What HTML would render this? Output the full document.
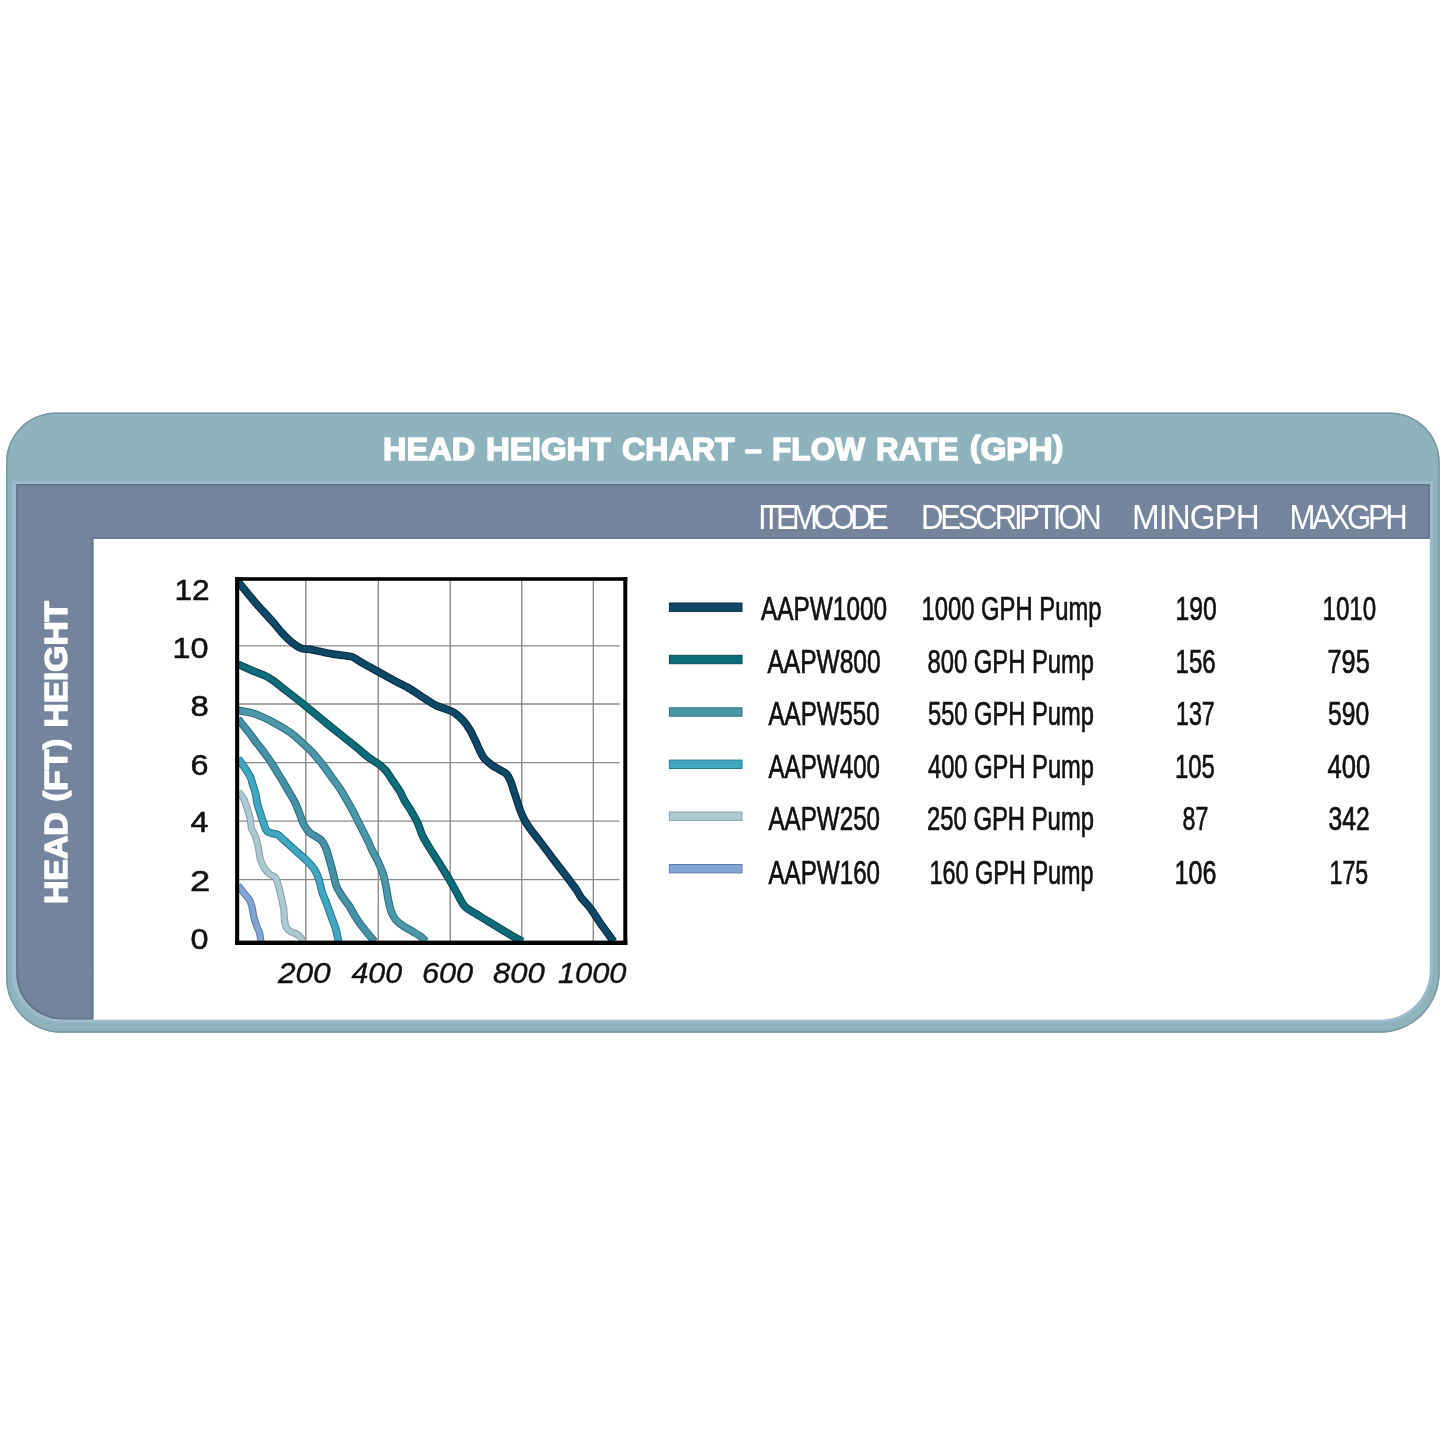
<!DOCTYPE html>
<html lang="en">
<head>
<meta charset="utf-8">
<title>Head Height Chart – Flow Rate (GPH)</title>
<style>
html,body{margin:0;padding:0;background:#fff;}
body{width:1445px;height:1445px;overflow:hidden;font-family:'Liberation Sans', Arial, Helvetica, sans-serif;}
svg{display:block;}
</style>
</head>
<body>
<svg width="1445" height="1445" viewBox="0 0 1445 1445">
<rect width="1445" height="1445" fill="#ffffff"/>
<defs><clipPath id="co"><path d="M56,412.5 H1389.5 A50,50 0 0 1 1439.7,462.5 V972.5 A60,60 0 0 1 1379.5,1032.7 H61 A55,55 0 0 1 6,977.5 V462.5 A50,50 0 0 1 56,412.5 Z"/></clipPath><clipPath id="cb"><path d="M16.2,484 H1429.8 V538.8 H93.4 V1019.6 H62 A46,46 0 0 1 16.2,973.6 Z"/></clipPath></defs>
<path d="M56,412.5 H1389.5 A50,50 0 0 1 1439.7,462.5 V972.5 A60,60 0 0 1 1379.5,1032.7 H61 A55,55 0 0 1 6,977.5 V462.5 A50,50 0 0 1 56,412.5 Z" fill="#8fb3bd"/>
<path d="M56,412.5 H1389.5 A50,50 0 0 1 1439.7,462.5 V972.5 A60,60 0 0 1 1379.5,1032.7 H61 A55,55 0 0 1 6,977.5 V462.5 A50,50 0 0 1 56,412.5 Z" fill="none" stroke="#7b979f" stroke-width="3" clip-path="url(#co)"/>
<path d="M11.8,481.3 H1432.8 V970 A52.6,52.6 0 0 1 1380.2,1022.6 H61 A49.2,49.2 0 0 1 11.8,973.4 Z" fill="#9dbacb"/>
<path d="M16.2,484 H1429.8 V970 A49.8,49.8 0 0 1 1380,1019.8 H62 A46,46 0 0 1 16.2,973.6 Z" fill="#ffffff"/>
<path d="M16.2,484 H1429.8 V538.8 H93.4 V1019.6 H62 A46,46 0 0 1 16.2,973.6 Z" fill="#73849c"/>
<path d="M16.2,484 H1429.8 V538.8 H93.4 V1019.6 H62 A46,46 0 0 1 16.2,973.6 Z" fill="none" stroke="#63758d" stroke-width="3.4" clip-path="url(#cb)"/>
<g id="title">
<text x="383.00" y="459.7" font-family="'Liberation Sans', Arial, Helvetica, sans-serif" font-size="30.9" font-weight="bold" font-style="normal" fill="#fff" textLength="92.16" lengthAdjust="spacingAndGlyphs" stroke="#fff" stroke-width="1.4" stroke-linejoin="round">HEAD</text>
<text x="486.00" y="459.7" font-family="'Liberation Sans', Arial, Helvetica, sans-serif" font-size="30.9" font-weight="bold" font-style="normal" fill="#fff" textLength="124.55" lengthAdjust="spacingAndGlyphs" stroke="#fff" stroke-width="1.4" stroke-linejoin="round">HEIGHT</text>
<text x="622.00" y="459.7" font-family="'Liberation Sans', Arial, Helvetica, sans-serif" font-size="30.9" font-weight="bold" font-style="normal" fill="#fff" textLength="112.54" lengthAdjust="spacingAndGlyphs" stroke="#fff" stroke-width="1.4" stroke-linejoin="round">CHART</text>
<text x="745.00" y="459.7" font-family="'Liberation Sans', Arial, Helvetica, sans-serif" font-size="30.9" font-weight="bold" font-style="normal" fill="#fff" textLength="16.81" lengthAdjust="spacingAndGlyphs" stroke="#fff" stroke-width="1.4" stroke-linejoin="round">–</text>
<text x="772.00" y="459.7" font-family="'Liberation Sans', Arial, Helvetica, sans-serif" font-size="30.9" font-weight="bold" font-style="normal" fill="#fff" textLength="93.08" lengthAdjust="spacingAndGlyphs" stroke="#fff" stroke-width="1.4" stroke-linejoin="round">FLOW</text>
<text x="876.00" y="459.7" font-family="'Liberation Sans', Arial, Helvetica, sans-serif" font-size="30.9" font-weight="bold" font-style="normal" fill="#fff" textLength="82.61" lengthAdjust="spacingAndGlyphs" stroke="#fff" stroke-width="1.4" stroke-linejoin="round">RATE</text>
<text x="970.00" y="459.7" font-family="'Liberation Sans', Arial, Helvetica, sans-serif" font-size="30.9" font-weight="bold" font-style="normal" fill="#fff" textLength="93.14" lengthAdjust="spacingAndGlyphs" stroke="#fff" stroke-width="1.4" stroke-linejoin="round"><tspan font-size="29" dy="-2.3">(</tspan><tspan dy="2.3">GPH</tspan><tspan font-size="29" dy="-2.3">)</tspan></text>
</g>
<g id="hdr">
<text transform="translate(758.00,529.3) scale(0.9,1)" font-family="'Liberation Sans', Arial, Helvetica, sans-serif" font-size="34.6" font-weight="normal" font-style="normal" fill="#fff" textLength="145.20" lengthAdjust="spacing">ITEMCODE</text>
<text transform="translate(921.00,529.3) scale(0.9,1)" font-family="'Liberation Sans', Arial, Helvetica, sans-serif" font-size="34.6" font-weight="normal" font-style="normal" fill="#fff" textLength="200.73" lengthAdjust="spacing">DESCRIPTION</text>
<text transform="translate(1132.00,529.3) scale(0.96,1)" font-family="'Liberation Sans', Arial, Helvetica, sans-serif" font-size="34.6" font-weight="normal" font-style="normal" fill="#fff" textLength="133.04" lengthAdjust="spacing">MINGPH</text>
<text transform="translate(1289.50,529.3) scale(0.9,1)" font-family="'Liberation Sans', Arial, Helvetica, sans-serif" font-size="34.6" font-weight="normal" font-style="normal" fill="#fff" textLength="131.46" lengthAdjust="spacing">MAXGPH</text>
</g>
<g id="vlabel" transform="translate(67.1,902.6) rotate(-90)">
<text x="-1.40" y="0.0" font-family="'Liberation Sans', Arial, Helvetica, sans-serif" font-size="30.9" font-weight="bold" font-style="normal" fill="#fff" textLength="91.60" lengthAdjust="spacingAndGlyphs" stroke="#fff" stroke-width="1.4" stroke-linejoin="round">HEAD</text>
<text x="101.10" y="0.0" font-family="'Liberation Sans', Arial, Helvetica, sans-serif" font-size="30.9" font-weight="bold" font-style="normal" fill="#fff" textLength="62.60" lengthAdjust="spacingAndGlyphs" stroke="#fff" stroke-width="1.4" stroke-linejoin="round"><tspan font-size="29" dy="-2.3">(</tspan><tspan dy="2.3">FT</tspan><tspan font-size="29" dy="-2.3">)</tspan></text>
<text x="175.10" y="0.0" font-family="'Liberation Sans', Arial, Helvetica, sans-serif" font-size="30.9" font-weight="bold" font-style="normal" fill="#fff" textLength="126.55" lengthAdjust="spacingAndGlyphs" stroke="#fff" stroke-width="1.4" stroke-linejoin="round">HEIGHT</text>
</g>
<g id="grid" stroke="#8f8a8a" stroke-width="1.4" fill="none">
<line x1="305.8" y1="579" x2="305.8" y2="942.8"/>
<line x1="378.3" y1="579" x2="378.3" y2="942.8"/>
<line x1="450.2" y1="579" x2="450.2" y2="942.8"/>
<line x1="521.7" y1="579" x2="521.7" y2="942.8"/>
<line x1="593.3" y1="579" x2="593.3" y2="942.8"/>
<line x1="237" y1="645.9" x2="619.5" y2="645.9"/>
<line x1="237" y1="704" x2="619.5" y2="704"/>
<line x1="237" y1="762.6" x2="619.5" y2="762.6"/>
<line x1="237" y1="821.1" x2="619.5" y2="821.1"/>
<line x1="237" y1="879.6" x2="619.5" y2="879.6"/>
</g>
<g id="curves" fill="none" stroke-linecap="butt" stroke-linejoin="round">
<path d="M238.0,885.5 C238.8,886.5 242.3,891.0 243.8,892.9 C245.3,894.8 248.5,898.1 249.6,900.0 C250.7,901.9 251.4,904.9 252.0,907.1 C252.6,909.3 253.2,914.0 253.8,916.5 C254.4,919.0 255.9,923.7 256.7,925.9 C257.5,928.1 259.0,930.8 259.6,932.9 C260.2,935.0 260.8,940.4 261.0,941.5" stroke="#5f7ea8" stroke-width="7.2"/>
<path d="M238.0,885.5 C238.8,886.5 242.3,891.0 243.8,892.9 C245.3,894.8 248.5,898.1 249.6,900.0 C250.7,901.9 251.4,904.9 252.0,907.1 C252.6,909.3 253.2,914.0 253.8,916.5 C254.4,919.0 255.9,923.7 256.7,925.9 C257.5,928.1 259.0,930.8 259.6,932.9 C260.2,935.0 260.8,940.4 261.0,941.5" stroke="#82a5d4" stroke-width="5.0"/>
<path d="M238.2,791.5 C238.9,792.5 242.7,796.7 243.8,798.8 C244.9,800.9 245.8,804.3 246.7,807.0 C247.6,809.7 249.6,816.0 250.2,818.8 C250.8,821.6 250.7,825.8 251.4,828.2 C252.1,830.6 254.6,833.8 255.5,836.5 C256.4,839.2 257.9,845.2 258.5,848.2 C259.1,851.2 259.4,856.1 260.2,858.8 C261.0,861.5 263.1,866.2 264.4,868.2 C265.7,870.2 268.1,872.8 269.6,874.1 C271.1,875.4 274.3,876.0 275.5,877.6 C276.7,879.2 277.7,883.2 278.5,885.9 C279.3,888.6 280.7,894.5 281.4,897.6 C282.1,900.7 283.4,906.6 283.8,909.4 C284.2,912.2 284.1,916.4 284.4,918.8 C284.7,921.2 285.2,925.4 286.1,927.1 C287.0,928.8 289.4,930.9 290.8,931.8 C292.2,932.7 295.4,933.3 296.7,934.1 C298.0,934.9 300.0,936.6 300.8,937.6 C301.6,938.6 302.7,941.0 303.0,941.5" stroke="#88a4ae" stroke-width="7.2"/>
<path d="M238.2,791.5 C238.9,792.5 242.7,796.7 243.8,798.8 C244.9,800.9 245.8,804.3 246.7,807.0 C247.6,809.7 249.6,816.0 250.2,818.8 C250.8,821.6 250.7,825.8 251.4,828.2 C252.1,830.6 254.6,833.8 255.5,836.5 C256.4,839.2 257.9,845.2 258.5,848.2 C259.1,851.2 259.4,856.1 260.2,858.8 C261.0,861.5 263.1,866.2 264.4,868.2 C265.7,870.2 268.1,872.8 269.6,874.1 C271.1,875.4 274.3,876.0 275.5,877.6 C276.7,879.2 277.7,883.2 278.5,885.9 C279.3,888.6 280.7,894.5 281.4,897.6 C282.1,900.7 283.4,906.6 283.8,909.4 C284.2,912.2 284.1,916.4 284.4,918.8 C284.7,921.2 285.2,925.4 286.1,927.1 C287.0,928.8 289.4,930.9 290.8,931.8 C292.2,932.7 295.4,933.3 296.7,934.1 C298.0,934.9 300.0,936.6 300.8,937.6 C301.6,938.6 302.7,941.0 303.0,941.5" stroke="#acc8d0" stroke-width="5.0"/>
<path d="M238.0,758.4 C239.0,759.8 244.1,766.7 245.7,769.2 C247.3,771.7 249.3,774.7 250.3,776.8 C251.3,778.9 252.2,783.0 252.9,785.2 C253.6,787.4 255.0,791.2 255.6,793.6 C256.2,796.0 256.5,800.4 257.3,803.5 C258.1,806.6 260.2,813.0 261.4,816.5 C262.6,820.0 264.8,827.8 266.1,830.0 C267.4,832.2 269.2,832.3 270.8,832.9 C272.4,833.5 276.2,833.8 277.9,834.7 C279.6,835.6 281.5,837.9 283.8,840.0 C286.1,842.1 292.4,847.8 295.5,850.6 C298.6,853.4 304.8,858.7 307.3,861.2 C309.8,863.7 312.8,866.9 314.4,869.4 C316.0,871.9 318.1,877.0 319.1,880.0 C320.1,883.0 321.1,888.8 322.0,891.8 C322.9,894.8 325.0,899.2 326.2,902.4 C327.4,905.6 329.8,912.5 331.0,915.9 C332.2,919.3 334.4,924.2 335.4,927.6 C336.4,931.0 338.2,939.6 338.6,941.5" stroke="#2b7b8e" stroke-width="7.8"/>
<path d="M238.0,758.4 C239.0,759.8 244.1,766.7 245.7,769.2 C247.3,771.7 249.3,774.7 250.3,776.8 C251.3,778.9 252.2,783.0 252.9,785.2 C253.6,787.4 255.0,791.2 255.6,793.6 C256.2,796.0 256.5,800.4 257.3,803.5 C258.1,806.6 260.2,813.0 261.4,816.5 C262.6,820.0 264.8,827.8 266.1,830.0 C267.4,832.2 269.2,832.3 270.8,832.9 C272.4,833.5 276.2,833.8 277.9,834.7 C279.6,835.6 281.5,837.9 283.8,840.0 C286.1,842.1 292.4,847.8 295.5,850.6 C298.6,853.4 304.8,858.7 307.3,861.2 C309.8,863.7 312.8,866.9 314.4,869.4 C316.0,871.9 318.1,877.0 319.1,880.0 C320.1,883.0 321.1,888.8 322.0,891.8 C322.9,894.8 325.0,899.2 326.2,902.4 C327.4,905.6 329.8,912.5 331.0,915.9 C332.2,919.3 334.4,924.2 335.4,927.6 C336.4,931.0 338.2,939.6 338.6,941.5" stroke="#3fa8c0" stroke-width="5.6"/>
<path d="M238.0,719.0 C239.2,720.5 244.7,727.3 247.2,730.4 C249.7,733.5 254.1,739.6 256.4,742.6 C258.7,745.6 262.7,750.5 264.7,753.2 C266.7,755.9 269.9,760.5 271.6,763.1 C273.3,765.7 276.1,770.4 277.7,773.0 C279.3,775.6 282.2,780.2 283.8,782.9 C285.4,785.6 288.3,790.9 289.9,793.6 C291.5,796.3 294.1,800.6 295.5,803.5 C296.9,806.4 299.1,812.5 300.2,815.3 C301.3,818.1 302.5,822.4 303.8,824.7 C305.1,827.0 307.4,830.5 309.7,832.6 C312.0,834.7 319.1,838.1 321.3,840.3 C323.5,842.5 325.0,846.2 326.2,849.1 C327.4,852.0 329.0,858.3 330.0,861.7 C331.0,865.1 332.6,871.1 333.4,874.3 C334.2,877.5 335.2,883.1 336.3,885.9 C337.4,888.7 340.0,892.9 341.7,895.6 C343.4,898.3 347.7,903.6 349.4,906.2 C351.1,908.8 352.9,912.7 354.3,915.0 C355.7,917.3 358.4,921.4 360.1,923.7 C361.8,926.0 365.0,930.0 366.9,932.4 C368.8,934.8 373.5,940.3 374.5,941.5" stroke="#2c6f80" stroke-width="7.8"/>
<path d="M238.0,719.0 C239.2,720.5 244.7,727.3 247.2,730.4 C249.7,733.5 254.1,739.6 256.4,742.6 C258.7,745.6 262.7,750.5 264.7,753.2 C266.7,755.9 269.9,760.5 271.6,763.1 C273.3,765.7 276.1,770.4 277.7,773.0 C279.3,775.6 282.2,780.2 283.8,782.9 C285.4,785.6 288.3,790.9 289.9,793.6 C291.5,796.3 294.1,800.6 295.5,803.5 C296.9,806.4 299.1,812.5 300.2,815.3 C301.3,818.1 302.5,822.4 303.8,824.7 C305.1,827.0 307.4,830.5 309.7,832.6 C312.0,834.7 319.1,838.1 321.3,840.3 C323.5,842.5 325.0,846.2 326.2,849.1 C327.4,852.0 329.0,858.3 330.0,861.7 C331.0,865.1 332.6,871.1 333.4,874.3 C334.2,877.5 335.2,883.1 336.3,885.9 C337.4,888.7 340.0,892.9 341.7,895.6 C343.4,898.3 347.7,903.6 349.4,906.2 C351.1,908.8 352.9,912.7 354.3,915.0 C355.7,917.3 358.4,921.4 360.1,923.7 C361.8,926.0 365.0,930.0 366.9,932.4 C368.8,934.8 373.5,940.3 374.5,941.5" stroke="#4791a6" stroke-width="5.6"/>
<path d="M238.0,710.4 C239.7,710.7 247.7,711.9 251.0,712.8 C254.3,713.7 259.4,715.7 262.5,717.0 C265.6,718.3 270.9,721.1 273.9,722.7 C276.9,724.3 282.6,727.5 285.3,729.2 C288.0,730.9 292.0,733.6 294.5,735.7 C297.0,737.8 302.1,742.6 304.4,744.8 C306.7,747.0 309.7,749.5 312.1,752.1 C314.5,754.7 319.8,761.1 322.5,764.5 C325.2,767.9 329.7,774.4 332.1,777.7 C334.5,781.0 338.4,786.3 340.4,789.4 C342.4,792.5 345.6,798.1 347.4,801.2 C349.2,804.3 352.1,809.5 353.6,812.3 C355.1,815.1 357.0,819.2 358.4,822.0 C359.8,824.8 362.6,830.2 364.0,833.0 C365.4,835.8 367.8,840.5 368.8,842.7 C369.8,844.9 370.4,846.8 371.7,849.5 C373.0,852.2 377.0,859.3 378.5,862.6 C380.0,865.9 382.3,870.9 383.3,874.3 C384.3,877.7 385.5,884.4 386.2,887.8 C386.9,891.2 387.5,896.4 388.2,899.5 C388.9,902.6 390.2,908.5 391.1,911.1 C392.0,913.7 393.5,916.9 395.0,918.8 C396.5,920.7 400.4,923.9 402.7,925.6 C405.0,927.3 410.1,930.0 412.4,931.4 C414.7,932.8 418.4,934.9 420.2,936.2 C422.0,937.5 425.2,940.8 426.0,941.5" stroke="#2e7480" stroke-width="7.8"/>
<path d="M238.0,710.4 C239.7,710.7 247.7,711.9 251.0,712.8 C254.3,713.7 259.4,715.7 262.5,717.0 C265.6,718.3 270.9,721.1 273.9,722.7 C276.9,724.3 282.6,727.5 285.3,729.2 C288.0,730.9 292.0,733.6 294.5,735.7 C297.0,737.8 302.1,742.6 304.4,744.8 C306.7,747.0 309.7,749.5 312.1,752.1 C314.5,754.7 319.8,761.1 322.5,764.5 C325.2,767.9 329.7,774.4 332.1,777.7 C334.5,781.0 338.4,786.3 340.4,789.4 C342.4,792.5 345.6,798.1 347.4,801.2 C349.2,804.3 352.1,809.5 353.6,812.3 C355.1,815.1 357.0,819.2 358.4,822.0 C359.8,824.8 362.6,830.2 364.0,833.0 C365.4,835.8 367.8,840.5 368.8,842.7 C369.8,844.9 370.4,846.8 371.7,849.5 C373.0,852.2 377.0,859.3 378.5,862.6 C380.0,865.9 382.3,870.9 383.3,874.3 C384.3,877.7 385.5,884.4 386.2,887.8 C386.9,891.2 387.5,896.4 388.2,899.5 C388.9,902.6 390.2,908.5 391.1,911.1 C392.0,913.7 393.5,916.9 395.0,918.8 C396.5,920.7 400.4,923.9 402.7,925.6 C405.0,927.3 410.1,930.0 412.4,931.4 C414.7,932.8 418.4,934.9 420.2,936.2 C422.0,937.5 425.2,940.8 426.0,941.5" stroke="#4b96a8" stroke-width="5.6"/>
<path d="M238.0,664.3 C240.0,665.2 249.2,669.3 252.8,670.8 C256.4,672.3 262.4,674.5 265.2,675.8 C268.0,677.1 271.3,679.3 273.5,680.8 C275.7,682.3 279.2,685.4 281.8,687.4 C284.4,689.4 289.9,693.6 293.0,696.0 C296.1,698.4 300.2,701.5 304.7,705.2 C309.2,708.9 320.2,718.2 326.9,723.6 C333.6,729.0 349.0,741.3 354.6,745.8 C360.2,750.3 365.5,755.1 368.8,757.6 C372.1,760.1 376.9,762.7 379.2,764.5 C381.5,766.3 384.4,768.9 386.1,770.8 C387.8,772.7 389.8,776.3 391.7,779.1 C393.6,781.9 398.3,788.7 400.0,791.5 C401.7,794.3 402.7,797.3 404.2,800.0 C405.7,802.7 409.6,808.4 411.4,811.4 C413.2,814.4 416.1,819.6 417.6,822.8 C419.1,826.0 420.6,831.8 422.3,835.3 C424.0,838.8 427.8,845.1 430.1,848.8 C432.4,852.5 437.1,859.6 439.4,863.3 C441.7,867.0 445.5,873.1 447.7,876.8 C449.9,880.5 453.8,887.4 456.0,891.3 C458.2,895.2 461.8,903.0 464.3,905.9 C466.8,908.8 471.5,911.0 474.7,913.1 C477.9,915.2 484.3,919.0 488.2,921.4 C492.1,923.8 500.3,928.7 503.8,930.8 C507.3,932.9 511.7,935.6 514.2,937.0 C516.7,938.4 521.4,940.9 522.5,941.5" stroke="#0a4a54" stroke-width="7.8"/>
<path d="M238.0,664.3 C240.0,665.2 249.2,669.3 252.8,670.8 C256.4,672.3 262.4,674.5 265.2,675.8 C268.0,677.1 271.3,679.3 273.5,680.8 C275.7,682.3 279.2,685.4 281.8,687.4 C284.4,689.4 289.9,693.6 293.0,696.0 C296.1,698.4 300.2,701.5 304.7,705.2 C309.2,708.9 320.2,718.2 326.9,723.6 C333.6,729.0 349.0,741.3 354.6,745.8 C360.2,750.3 365.5,755.1 368.8,757.6 C372.1,760.1 376.9,762.7 379.2,764.5 C381.5,766.3 384.4,768.9 386.1,770.8 C387.8,772.7 389.8,776.3 391.7,779.1 C393.6,781.9 398.3,788.7 400.0,791.5 C401.7,794.3 402.7,797.3 404.2,800.0 C405.7,802.7 409.6,808.4 411.4,811.4 C413.2,814.4 416.1,819.6 417.6,822.8 C419.1,826.0 420.6,831.8 422.3,835.3 C424.0,838.8 427.8,845.1 430.1,848.8 C432.4,852.5 437.1,859.6 439.4,863.3 C441.7,867.0 445.5,873.1 447.7,876.8 C449.9,880.5 453.8,887.4 456.0,891.3 C458.2,895.2 461.8,903.0 464.3,905.9 C466.8,908.8 471.5,911.0 474.7,913.1 C477.9,915.2 484.3,919.0 488.2,921.4 C492.1,923.8 500.3,928.7 503.8,930.8 C507.3,932.9 511.7,935.6 514.2,937.0 C516.7,938.4 521.4,940.9 522.5,941.5" stroke="#0e6c7a" stroke-width="5.6"/>
<path d="M238.0,581.8 C239.4,583.5 246.1,591.4 248.6,594.4 C251.1,597.4 254.7,601.9 256.9,604.4 C259.1,606.9 263.0,611.1 265.2,613.5 C267.4,615.9 271.3,620.2 273.5,622.7 C275.7,625.2 279.6,630.2 281.8,632.6 C284.0,635.0 288.1,639.1 290.1,640.9 C292.1,642.7 295.1,644.8 296.8,645.9 C298.5,647.0 300.9,648.4 302.6,648.8 C304.3,649.2 307.0,648.9 309.2,649.2 C311.4,649.5 316.2,650.7 319.2,651.3 C322.2,651.9 328.4,653.2 331.7,653.8 C335.0,654.4 341.3,655.1 344.1,655.5 C346.9,655.9 350.2,656.0 352.6,657.0 C355.0,658.0 358.8,660.8 362.3,662.8 C365.8,664.8 374.0,669.4 378.8,672.0 C383.6,674.6 394.2,680.5 398.1,682.6 C402.0,684.7 405.2,686.0 407.8,687.5 C410.4,689.0 414.9,692.1 417.5,693.8 C420.1,695.5 424.6,698.5 427.2,700.1 C429.8,701.7 434.3,704.7 436.9,705.9 C439.5,707.1 444.3,708.4 446.6,709.3 C448.9,710.2 452.1,711.2 454.3,712.7 C456.5,714.2 461.0,718.1 463.1,720.4 C465.2,722.7 468.1,727.0 469.7,729.6 C471.3,732.2 473.6,737.2 475.0,740.0 C476.4,742.8 478.7,748.4 479.9,750.8 C481.1,753.2 482.5,756.3 484.1,758.2 C485.7,760.1 489.5,763.3 491.6,764.9 C493.7,766.5 497.9,768.7 499.9,769.9 C501.9,771.1 505.1,772.5 506.5,774.0 C507.9,775.5 509.7,779.2 510.7,781.5 C511.7,783.8 513.1,788.8 514.0,791.5 C514.9,794.2 516.4,798.7 517.3,801.4 C518.2,804.1 519.6,808.9 520.6,811.4 C521.6,813.9 523.4,818.0 524.8,820.5 C526.2,823.0 529.1,827.4 531.2,830.3 C533.3,833.2 537.9,838.7 540.8,842.5 C543.7,846.3 550.4,855.4 553.2,859.1 C556.0,862.8 559.3,867.0 561.5,869.9 C563.7,872.8 567.8,878.0 569.8,880.7 C571.8,883.4 574.9,887.5 576.5,889.8 C578.1,892.1 579.8,895.9 581.5,898.1 C583.2,900.3 587.1,904.2 588.9,906.4 C590.7,908.6 593.1,912.3 594.8,914.7 C596.5,917.1 599.6,922.2 601.4,924.7 C603.2,927.2 606.4,931.6 608.0,933.8 C609.6,936.0 612.9,940.5 613.6,941.5" stroke="#082c42" stroke-width="7.8"/>
<path d="M238.0,581.8 C239.4,583.5 246.1,591.4 248.6,594.4 C251.1,597.4 254.7,601.9 256.9,604.4 C259.1,606.9 263.0,611.1 265.2,613.5 C267.4,615.9 271.3,620.2 273.5,622.7 C275.7,625.2 279.6,630.2 281.8,632.6 C284.0,635.0 288.1,639.1 290.1,640.9 C292.1,642.7 295.1,644.8 296.8,645.9 C298.5,647.0 300.9,648.4 302.6,648.8 C304.3,649.2 307.0,648.9 309.2,649.2 C311.4,649.5 316.2,650.7 319.2,651.3 C322.2,651.9 328.4,653.2 331.7,653.8 C335.0,654.4 341.3,655.1 344.1,655.5 C346.9,655.9 350.2,656.0 352.6,657.0 C355.0,658.0 358.8,660.8 362.3,662.8 C365.8,664.8 374.0,669.4 378.8,672.0 C383.6,674.6 394.2,680.5 398.1,682.6 C402.0,684.7 405.2,686.0 407.8,687.5 C410.4,689.0 414.9,692.1 417.5,693.8 C420.1,695.5 424.6,698.5 427.2,700.1 C429.8,701.7 434.3,704.7 436.9,705.9 C439.5,707.1 444.3,708.4 446.6,709.3 C448.9,710.2 452.1,711.2 454.3,712.7 C456.5,714.2 461.0,718.1 463.1,720.4 C465.2,722.7 468.1,727.0 469.7,729.6 C471.3,732.2 473.6,737.2 475.0,740.0 C476.4,742.8 478.7,748.4 479.9,750.8 C481.1,753.2 482.5,756.3 484.1,758.2 C485.7,760.1 489.5,763.3 491.6,764.9 C493.7,766.5 497.9,768.7 499.9,769.9 C501.9,771.1 505.1,772.5 506.5,774.0 C507.9,775.5 509.7,779.2 510.7,781.5 C511.7,783.8 513.1,788.8 514.0,791.5 C514.9,794.2 516.4,798.7 517.3,801.4 C518.2,804.1 519.6,808.9 520.6,811.4 C521.6,813.9 523.4,818.0 524.8,820.5 C526.2,823.0 529.1,827.4 531.2,830.3 C533.3,833.2 537.9,838.7 540.8,842.5 C543.7,846.3 550.4,855.4 553.2,859.1 C556.0,862.8 559.3,867.0 561.5,869.9 C563.7,872.8 567.8,878.0 569.8,880.7 C571.8,883.4 574.9,887.5 576.5,889.8 C578.1,892.1 579.8,895.9 581.5,898.1 C583.2,900.3 587.1,904.2 588.9,906.4 C590.7,908.6 593.1,912.3 594.8,914.7 C596.5,917.1 599.6,922.2 601.4,924.7 C603.2,927.2 606.4,931.6 608.0,933.8 C609.6,936.0 612.9,940.5 613.6,941.5" stroke="#0f4866" stroke-width="5.6"/>
</g>
<g id="frame" fill="#000"><rect x="235.1" y="577.2" width="392.2" height="3.6"/><rect x="235.1" y="577.2" width="4.1" height="367.8"/><rect x="623.3" y="577.2" width="4" height="367.8"/><rect x="235.1" y="940.6" width="392.2" height="4.4"/></g>
<g id="ylab">
<text x="174.50" y="600.0" font-family="'Liberation Sans', Arial, Helvetica, sans-serif" font-size="29.3" font-weight="normal" font-style="normal" fill="#111" textLength="35.17" lengthAdjust="spacingAndGlyphs" stroke="#111" stroke-width="0.5">12</text>
<text x="172.50" y="657.5" font-family="'Liberation Sans', Arial, Helvetica, sans-serif" font-size="29.3" font-weight="normal" font-style="normal" fill="#111" textLength="36.04" lengthAdjust="spacingAndGlyphs" stroke="#111" stroke-width="0.5">10</text>
<text x="190.50" y="715.9" font-family="'Liberation Sans', Arial, Helvetica, sans-serif" font-size="29.3" font-weight="normal" font-style="normal" fill="#111" textLength="18.28" lengthAdjust="spacingAndGlyphs" stroke="#111" stroke-width="0.5">8</text>
<text x="190.50" y="774.5" font-family="'Liberation Sans', Arial, Helvetica, sans-serif" font-size="29.3" font-weight="normal" font-style="normal" fill="#111" textLength="18.03" lengthAdjust="spacingAndGlyphs" stroke="#111" stroke-width="0.5">6</text>
<text x="190.50" y="831.8" font-family="'Liberation Sans', Arial, Helvetica, sans-serif" font-size="29.3" font-weight="normal" font-style="normal" fill="#111" textLength="17.87" lengthAdjust="spacingAndGlyphs" stroke="#111" stroke-width="0.5">4</text>
<text x="190.00" y="890.6" font-family="'Liberation Sans', Arial, Helvetica, sans-serif" font-size="29.3" font-weight="normal" font-style="normal" fill="#111" textLength="20.23" lengthAdjust="spacingAndGlyphs" stroke="#111" stroke-width="0.5">2</text>
<text x="190.50" y="949.2" font-family="'Liberation Sans', Arial, Helvetica, sans-serif" font-size="29.3" font-weight="normal" font-style="normal" fill="#111" textLength="17.99" lengthAdjust="spacingAndGlyphs" stroke="#111" stroke-width="0.5">0</text>
</g>
<g id="xlab">
<text x="278.00" y="982.6" font-family="'Liberation Sans', Arial, Helvetica, sans-serif" font-size="29.8" font-weight="normal" font-style="italic" fill="#111" textLength="52.63" lengthAdjust="spacingAndGlyphs" stroke="#111" stroke-width="0.4">200</text>
<text x="351.50" y="982.6" font-family="'Liberation Sans', Arial, Helvetica, sans-serif" font-size="29.8" font-weight="normal" font-style="italic" fill="#111" textLength="50.54" lengthAdjust="spacingAndGlyphs" stroke="#111" stroke-width="0.4">400</text>
<text x="422.00" y="982.6" font-family="'Liberation Sans', Arial, Helvetica, sans-serif" font-size="29.8" font-weight="normal" font-style="italic" fill="#111" textLength="51.13" lengthAdjust="spacingAndGlyphs" stroke="#111" stroke-width="0.4">600</text>
<text x="493.00" y="982.6" font-family="'Liberation Sans', Arial, Helvetica, sans-serif" font-size="29.8" font-weight="normal" font-style="italic" fill="#111" textLength="51.61" lengthAdjust="spacingAndGlyphs" stroke="#111" stroke-width="0.4">800</text>
<text x="558.00" y="982.6" font-family="'Liberation Sans', Arial, Helvetica, sans-serif" font-size="29.8" font-weight="normal" font-style="italic" fill="#111" textLength="68.50" lengthAdjust="spacingAndGlyphs" stroke="#111" stroke-width="0.4">1000</text>
</g>
<g id="legend">
<rect x="669.4" y="603.0" width="72.6" height="8.4" fill="#0f4866" stroke="#082c42" stroke-width="1"/>
<text x="761.00" y="620.0" font-family="'Liberation Sans', Arial, Helvetica, sans-serif" font-size="33.6" font-weight="normal" font-style="normal" fill="#111" textLength="126.10" lengthAdjust="spacingAndGlyphs" stroke="#111" stroke-width="0.7">AAPW1000</text>
<text x="921.50" y="620.0" font-family="'Liberation Sans', Arial, Helvetica, sans-serif" font-size="33.6" font-weight="normal" font-style="normal" fill="#111" textLength="180.04" lengthAdjust="spacingAndGlyphs" stroke="#111" stroke-width="0.7">1000 GPH Pump</text>
<text x="1175.50" y="620.0" font-family="'Liberation Sans', Arial, Helvetica, sans-serif" font-size="33.6" font-weight="normal" font-style="normal" fill="#111" textLength="41.25" lengthAdjust="spacingAndGlyphs" stroke="#111" stroke-width="0.7">190</text>
<text x="1322.50" y="620.0" font-family="'Liberation Sans', Arial, Helvetica, sans-serif" font-size="33.6" font-weight="normal" font-style="normal" fill="#111" textLength="53.68" lengthAdjust="spacingAndGlyphs" stroke="#111" stroke-width="0.7">1010</text>
<rect x="669.4" y="655.3" width="72.6" height="8.4" fill="#0e6c7a" stroke="#0a4a54" stroke-width="1"/>
<text x="767.50" y="672.7" font-family="'Liberation Sans', Arial, Helvetica, sans-serif" font-size="33.6" font-weight="normal" font-style="normal" fill="#111" textLength="113.11" lengthAdjust="spacingAndGlyphs" stroke="#111" stroke-width="0.7">AAPW800</text>
<text x="927.50" y="672.7" font-family="'Liberation Sans', Arial, Helvetica, sans-serif" font-size="33.6" font-weight="normal" font-style="normal" fill="#111" textLength="166.53" lengthAdjust="spacingAndGlyphs" stroke="#111" stroke-width="0.7">800 GPH Pump</text>
<text x="1175.50" y="672.7" font-family="'Liberation Sans', Arial, Helvetica, sans-serif" font-size="33.6" font-weight="normal" font-style="normal" fill="#111" textLength="40.23" lengthAdjust="spacingAndGlyphs" stroke="#111" stroke-width="0.7">156</text>
<text x="1327.50" y="672.7" font-family="'Liberation Sans', Arial, Helvetica, sans-serif" font-size="33.6" font-weight="normal" font-style="normal" fill="#111" textLength="42.28" lengthAdjust="spacingAndGlyphs" stroke="#111" stroke-width="0.7">795</text>
<rect x="669.4" y="707.8" width="72.6" height="8.4" fill="#4b96a8" stroke="#2e7480" stroke-width="1"/>
<text x="768.50" y="725.2" font-family="'Liberation Sans', Arial, Helvetica, sans-serif" font-size="33.6" font-weight="normal" font-style="normal" fill="#111" textLength="111.10" lengthAdjust="spacingAndGlyphs" stroke="#111" stroke-width="0.7">AAPW550</text>
<text x="928.00" y="725.2" font-family="'Liberation Sans', Arial, Helvetica, sans-serif" font-size="33.6" font-weight="normal" font-style="normal" fill="#111" textLength="165.97" lengthAdjust="spacingAndGlyphs" stroke="#111" stroke-width="0.7">550 GPH Pump</text>
<text x="1176.00" y="725.2" font-family="'Liberation Sans', Arial, Helvetica, sans-serif" font-size="33.6" font-weight="normal" font-style="normal" fill="#111" textLength="38.81" lengthAdjust="spacingAndGlyphs" stroke="#111" stroke-width="0.7">137</text>
<text x="1328.00" y="725.2" font-family="'Liberation Sans', Arial, Helvetica, sans-serif" font-size="33.6" font-weight="normal" font-style="normal" fill="#111" textLength="41.22" lengthAdjust="spacingAndGlyphs" stroke="#111" stroke-width="0.7">590</text>
<rect x="669.4" y="760.1" width="72.6" height="8.4" fill="#3fa8c0" stroke="#2b7b8e" stroke-width="1"/>
<text x="768.50" y="777.8" font-family="'Liberation Sans', Arial, Helvetica, sans-serif" font-size="33.6" font-weight="normal" font-style="normal" fill="#111" textLength="111.52" lengthAdjust="spacingAndGlyphs" stroke="#111" stroke-width="0.7">AAPW400</text>
<text x="928.00" y="777.8" font-family="'Liberation Sans', Arial, Helvetica, sans-serif" font-size="33.6" font-weight="normal" font-style="normal" fill="#111" textLength="166.01" lengthAdjust="spacingAndGlyphs" stroke="#111" stroke-width="0.7">400 GPH Pump</text>
<text x="1175.00" y="777.8" font-family="'Liberation Sans', Arial, Helvetica, sans-serif" font-size="33.6" font-weight="normal" font-style="normal" fill="#111" textLength="39.84" lengthAdjust="spacingAndGlyphs" stroke="#111" stroke-width="0.7">105</text>
<text x="1327.50" y="777.8" font-family="'Liberation Sans', Arial, Helvetica, sans-serif" font-size="33.6" font-weight="normal" font-style="normal" fill="#111" textLength="42.60" lengthAdjust="spacingAndGlyphs" stroke="#111" stroke-width="0.7">400</text>
<rect x="669.4" y="812.0" width="72.6" height="8.4" fill="#acc8d0" stroke="#88a4ae" stroke-width="1"/>
<text x="768.50" y="830.2" font-family="'Liberation Sans', Arial, Helvetica, sans-serif" font-size="33.6" font-weight="normal" font-style="normal" fill="#111" textLength="111.52" lengthAdjust="spacingAndGlyphs" stroke="#111" stroke-width="0.7">AAPW250</text>
<text x="927.00" y="830.2" font-family="'Liberation Sans', Arial, Helvetica, sans-serif" font-size="33.6" font-weight="normal" font-style="normal" fill="#111" textLength="167.02" lengthAdjust="spacingAndGlyphs" stroke="#111" stroke-width="0.7">250 GPH Pump</text>
<text x="1182.50" y="830.2" font-family="'Liberation Sans', Arial, Helvetica, sans-serif" font-size="33.6" font-weight="normal" font-style="normal" fill="#111" textLength="25.77" lengthAdjust="spacingAndGlyphs" stroke="#111" stroke-width="0.7">87</text>
<text x="1328.50" y="830.2" font-family="'Liberation Sans', Arial, Helvetica, sans-serif" font-size="33.6" font-weight="normal" font-style="normal" fill="#111" textLength="41.20" lengthAdjust="spacingAndGlyphs" stroke="#111" stroke-width="0.7">342</text>
<rect x="669.4" y="864.5" width="72.6" height="8.4" fill="#82a5d4" stroke="#5f7ea8" stroke-width="1"/>
<text x="768.50" y="883.6" font-family="'Liberation Sans', Arial, Helvetica, sans-serif" font-size="33.6" font-weight="normal" font-style="normal" fill="#111" textLength="111.52" lengthAdjust="spacingAndGlyphs" stroke="#111" stroke-width="0.7">AAPW160</text>
<text x="929.50" y="883.6" font-family="'Liberation Sans', Arial, Helvetica, sans-serif" font-size="33.6" font-weight="normal" font-style="normal" fill="#111" textLength="164.15" lengthAdjust="spacingAndGlyphs" stroke="#111" stroke-width="0.7">160 GPH Pump</text>
<text x="1174.50" y="883.6" font-family="'Liberation Sans', Arial, Helvetica, sans-serif" font-size="33.6" font-weight="normal" font-style="normal" fill="#111" textLength="41.88" lengthAdjust="spacingAndGlyphs" stroke="#111" stroke-width="0.7">106</text>
<text x="1329.50" y="883.6" font-family="'Liberation Sans', Arial, Helvetica, sans-serif" font-size="33.6" font-weight="normal" font-style="normal" fill="#111" textLength="38.71" lengthAdjust="spacingAndGlyphs" stroke="#111" stroke-width="0.7">175</text>
</g>
</svg>
</body>
</html>
